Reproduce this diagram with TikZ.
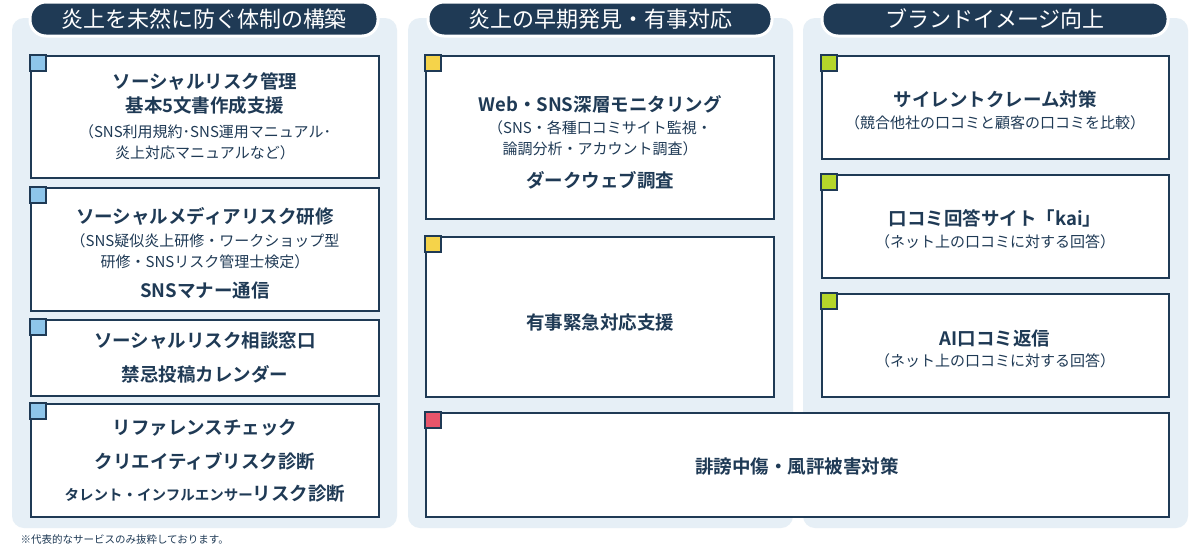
\documentclass[tikz,border=0pt]{standalone}
\usepackage{fontspec}
\setmainfont{Noto Sans CJK JP}
\newfontfamily\jpb{Noto Sans CJK JP Bold}
\definecolor{navy}{HTML}{1F3A55}
\definecolor{panel}{HTML}{E6EFF6}
\definecolor{mblue}{HTML}{8EC5EA}
\definecolor{myel}{HTML}{F5D34A}
\definecolor{mgreen}{HTML}{B5D62A}
\definecolor{mred}{HTML}{E8556B}
\begin{document}
\begin{tikzpicture}[x=1pt,y=-1pt,
  panelbox/.style={fill=panel,rounded corners=12pt},
  pill/.style={fill=navy,draw=white,line width=3pt,rounded corners=16pt},
  pt/.style={text=white,font=\fontsize{22}{24}\selectfont},
  card/.style={draw=navy,line width=1.8pt,fill=white},
  mk/.style={draw=navy,line width=1.2pt},
  ttl/.style={font=\jpb\fontsize{18.5}{24}\selectfont,text=navy,align=center},
  sub/.style={font=\fontsize{15}{21}\selectfont,text=navy,align=center}]
\useasboundingbox (0,0) rectangle (1200,549);
\fill[white] (0,0) rectangle (1200,549);
\path[panelbox] (12,18) rectangle (397,528);
\path[panelbox] (408,18) rectangle (793,528);
\path[panelbox] (803,18) rectangle (1188,528);
\path[pill] (30,2) rectangle (378,36); \node[pt] (p1) at (204,19) {炎上を未然に防ぐ体制の構築};
\path[pill] (428,2) rectangle (772,36); \node[pt] (p2) at (600,19) {炎上の早期発見・有事対応};
\path[pill] (822,2) rectangle (1168,36); \node[pt] (p3) at (995,19) {ブランドイメージ向上};
\newcommand\card[5]{\draw[card] (#1,#2) rectangle (#3,#4); \filldraw[mk,fill=#5] (#1-1,#2-1) rectangle (#1+15,#2+15);}
\card{31}{56}{379}{178}{mblue}
\card{31}{188}{379}{311}{mblue}
\card{31}{320}{379}{396}{mblue}
\card{31}{404}{379}{517}{mblue}
\card{426}{56}{774}{219}{myel}
\card{426}{237}{774}{397}{myel}
\card{426}{413}{1169}{517}{mred}
\card{822}{56}{1169}{159}{mgreen}
\card{822}{175}{1169}{278}{mgreen}
\card{822}{294}{1169}{397}{mgreen}
\node[ttl] (a1) at (205,94) {ソーシャルリスク管理\\基本5文書作成支援};
\node[sub] (a2) at (205,142) {（SNS利用規約･SNS運用マニュアル･\\炎上対応マニュアルなど）};
\node[ttl] (b1) at (205,216) {ソーシャルメディアリスク研修};
\node[sub] (b2) at (205,251) {（SNS疑似炎上研修・ワークショップ型\\研修・SNSリスク管理士検定）};
\node[ttl] (b3) at (205,290) {SNSマナー通信};
\node[ttl] (c1) at (205,341) {ソーシャルリスク相談窓口};
\node[ttl] (c2) at (205,374) {禁忌投稿カレンダー};
\node[ttl] (d1) at (205,428) {リファレンスチェック};
\node[ttl] (d2) at (205,461) {クリエイティブリスク診断};
\node[ttl] (d3) at (205,494) {{\fontsize{14.5}{16}\selectfont タレント・インフルエンサー}リスク診断};
\node[ttl] (e1) at (600,104) {Web・SNS深層モニタリング};
\node[sub] (e2) at (600,138) {（SNS・各種口コミサイト監視・\\論調分析・アカウント調査）};
\node[ttl] (e3) at (600,180) {ダークウェブ調査};
\node[ttl] (f1) at (600,322) {有事緊急対応支援};
\node[ttl] (g1) at (797,466) {誹謗中傷・風評被害対策};
\node[ttl] (h1) at (995,99) {サイレントクレーム対策};
\node[sub] (h2) at (995,123) {（競合他社の口コミと顧客の口コミを比較）};
\node[ttl] (i1) at (995,218) {口コミ回答サイト「kai」};
\node[sub] (i2) at (995,242) {（ネット上の口コミに対する回答）};
\node[ttl] (j1) at (995,338) {AI口コミ返信};
\node[sub] (j2) at (995,361) {（ネット上の口コミに対する回答）};
\node[anchor=west,text=navy,font=\fontsize{10.5}{12}\selectfont] (fn) at (17,539) {※代表的なサービスのみ抜粋しております。};
\end{tikzpicture}
\end{document}
